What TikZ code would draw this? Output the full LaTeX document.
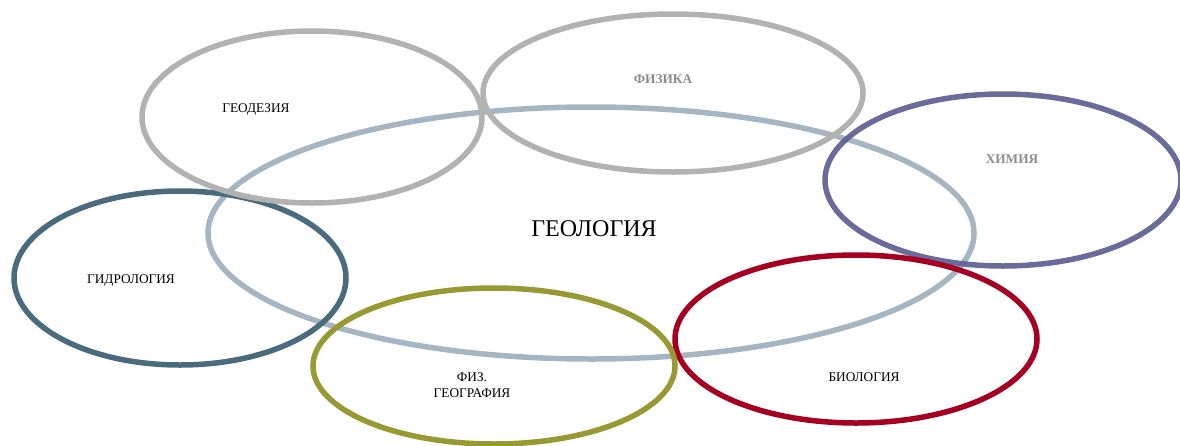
\documentclass[tikz,border=0pt]{standalone}
\usepackage{fontspec}
\setmainfont{Liberation Serif}
\usepackage{xcolor}
\usepackage{tikz}
\usetikzlibrary{positioning}
\definecolor{GeoBlue}{RGB}{165, 182, 194}
\definecolor{SoftGray}{RGB}{178, 178, 178}
\definecolor{ChemPurple}{RGB}{98, 98, 150}
\definecolor{HydroSlate}{RGB}{74, 107, 125}
\definecolor{OliveGreen}{RGB}{153, 153, 51}
\definecolor{BioRed}{RGB}{165, 0, 33}
\definecolor{LabelGray}{RGB}{140, 140, 140}

\tikzset{
  ring/.style={line width=5.5pt, fill=none},
  tag/.style={font=\fontsize{13.3}{15.5}\selectfont, align=center, inner sep=0pt},
  boldtag/.style={tag, font=\fontsize{13.3}{15.5}\selectfont\bfseries, text=LabelGray}
}

\begin{document}
\begin{tikzpicture}[x=1pt, y=-1pt]
      \useasboundingbox (0,0) rectangle (1180,445);
      \clip (0,0) rectangle (1180,445);
      % circles of the sciences
      \draw[ring, draw=GeoBlue] (591,233) ellipse [x radius=383, y radius=126];
      \draw[ring, draw=HydroSlate] (180,278) ellipse [x radius=166, y radius=87];
      \draw[ring, draw=SoftGray] (312,117) ellipse [x radius=170, y radius=86];
      \draw[ring, draw=SoftGray] (673,93) ellipse [x radius=190, y radius=79];
      \draw[ring, draw=ChemPurple, draw opacity=0.95] (1003,180) ellipse [x radius=178, y radius=86];
      \draw[ring, draw=BioRed] (856,339) ellipse [x radius=181, y radius=84];
      \draw[ring, draw=OliveGreen] (494,366) ellipse [x radius=181, y radius=78];
      % labels
      \node[tag, font=\fontsize{24}{26}\selectfont] (geology) at (594,229) {ГЕОЛОГИЯ};
      \node[tag] (geodesy) at (256,110) {ГЕОДЕЗИЯ};
      \node[boldtag] (physics) at (663,79) {ФИЗИКА};
      \node[boldtag] (chemistry) at (1012,159) {ХИМИЯ};
      \node[tag] (hydrology) at (131,281) {ГИДРОЛОГИЯ};
      \node[tag] (geography) at (472,385) {ФИЗ.\\ГЕОГРАФИЯ};
      \node[tag] (biology) at (864,377) {БИОЛОГИЯ};
    \end{tikzpicture}
\end{document}
